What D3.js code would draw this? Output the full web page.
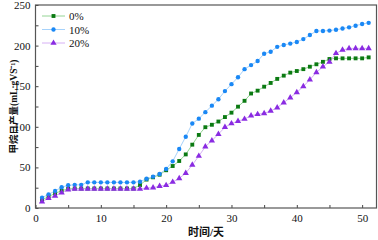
<!DOCTYPE html>
<html>
<head>
<meta charset="utf-8">
<script src="https://cdn.jsdelivr.net/npm/d3@7"></script>
<style>
  body { margin: 0; background: #fff; }
  svg { display: block; }
  text { font-family: "Liberation Serif", "Noto Sans CJK SC", serif; fill: #111; }
</style>
</head>
<body>
<div id="chart"></div>
<script>
// days 1..51
var days = d3.range(1, 52);

var seriesNames = ["0%", "10%", "20%"];

var vals0 = [10, 14, 18, 21.3, 23.5, 24, 24, 24, 24, 24,
  24, 24, 24, 24, 24, 28.3, 35, 37.8, 41, 46.5,
  51.7, 57.9, 66, 78, 90, 99.5, 102.5, 106.5, 112, 117.4,
  124.8, 132, 141, 144.5, 149.4, 154, 159, 163, 166.7, 168.7,
  171, 174, 177, 180, 183.5, 184.3, 184.3, 184.3, 184.3, 184.3,
  185.5];

var vals10 = [12.7, 16.8, 21, 25.5, 28, 28.5, 28.5, 31.6, 31.6, 31.6,
  31.6, 31.6, 31.6, 31.6, 31.6, 32.4, 36, 38.6, 41.9, 48,
  57.5, 72.7, 87.8, 104, 110, 118, 126, 134, 144, 152.5,
  161, 171, 176, 181, 190, 192.5, 198.5, 200.7, 202.5, 204.5,
  208, 213, 218, 218, 218.5, 219.5, 221, 222.5, 224.5, 226.6,
  228];

var vals20 = [7.8, 12, 15, 19, 22.5, 23.5, 23.5, 23.5, 23.5, 23.5,
  23.5, 23.5, 23.5, 23.5, 23.5, 23.5, 24.6, 25, 27, 28,
  32, 36.5, 43, 53, 64, 75.5, 83, 91, 99.5, 104,
  107, 109.6, 113.7, 115.4, 116.6, 119.5, 123.6, 129.7, 136, 142.4,
  149.7, 158, 167, 174, 180, 190.5, 194.6, 196.6, 196.6, 196.6,
  196.6];

var xTicks = [0, 10, 20, 30, 40, 50];
var yTicks = [0, 50, 100, 150, 200, 250];

var markerColors = ["#0b7a12", "#1a88f5", "#8a2be2"];
var lineColors = ["#94d494", "#a6d2fb", "#d6b0f5"];
var markerShapes = [d3.symbolSquare, d3.symbolCircle, d3.symbolTriangle];
var markerSizes = [15, 15, 17];

var W = 378, H = 240;
var margin = {top: 5, right: 1.5, bottom: 32, left: 35.5};

var svg = d3.select("#chart").append("svg")
  .attr("width", W)
  .attr("height", H);

var x = d3.scaleLinear().domain([0, 52.2]).range([margin.left, W - margin.right]);
var y = d3.scaleLinear().domain([0, 250]).range([H - margin.bottom, margin.top]);

var series = [vals0, vals10, vals20].map(function(v, i) {
  return {name: seriesNames[i], values: days.map(function(d, j) { return {day: d, v: v[j]}; }), idx: i};
});

// axes with inward ticks
var xAxis = svg.append("g")
  .attr("transform", "translate(0," + y(0) + ")")
  .call(d3.axisBottom(x).tickValues(d3.range(0, 55, 5)).tickSize(-3).tickPadding(6)
    .tickFormat(function(d) { return xTicks.indexOf(d) >= 0 ? d : ""; }));
xAxis.selectAll("text").style("font-size", "11px");

var yAxis = svg.append("g")
  .attr("transform", "translate(" + x(0) + ",0)")
  .call(d3.axisLeft(y).tickValues(d3.range(0, 251, 25)).tickSize(-3).tickPadding(5)
    .tickFormat(function(d) { return yTicks.indexOf(d) >= 0 ? d : ""; }));
yAxis.selectAll("text").style("font-size", "11px");

svg.selectAll(".domain").remove();
svg.selectAll(".tick line").attr("stroke", "#444");

// frame
svg.append("rect")
  .attr("x", x(0))
  .attr("y", y(250))
  .attr("width", x(52.2) - x(0))
  .attr("height", y(0) - y(250))
  .attr("fill", "none")
  .attr("stroke", "#555")
  .attr("stroke-width", 1.2);

var line = d3.line()
  .x(function(d) { return x(d.day); })
  .y(function(d) { return y(d.v); });

series.forEach(function(s) {
  svg.append("path")
    .datum(s.values)
    .attr("fill", "none")
    .attr("stroke", lineColors[s.idx])
    .attr("stroke-width", 1)
    .attr("d", line);
});

series.forEach(function(s) {
  svg.selectAll(".m" + s.idx)
    .data(s.values)
    .join("path")
    .attr("class", "m" + s.idx)
    .attr("transform", function(d) { return "translate(" + x(d.day) + "," + y(d.v) + ")"; })
    .attr("d", d3.symbol().type(markerShapes[s.idx]).size(markerSizes[s.idx]))
    .attr("fill", markerColors[s.idx]);
});

// legend
var legend = svg.append("g");
seriesNames.forEach(function(name, i) {
  var ly = 16 + i * 13.5;
  legend.append("line")
    .attr("x1", 42).attr("x2", 65)
    .attr("y1", ly).attr("y2", ly)
    .attr("stroke", lineColors[i])
    .attr("stroke-width", 1);
  legend.append("path")
    .attr("transform", "translate(53.5," + ly + ")")
    .attr("d", d3.symbol().type(markerShapes[i]).size(markerSizes[i]))
    .attr("fill", markerColors[i]);
  legend.append("text")
    .attr("x", 69)
    .attr("y", ly + 4)
    .style("font-size", "11px")
    .text(name);
});

// axis titles
svg.append("text")
  .attr("x", (x(0) + x(52.2)) / 2)
  .attr("y", 236)
  .attr("text-anchor", "middle")
  .style("font-size", "11px")
  .style("font-weight", "bold")
  .text("时间/天");

svg.append("text")
  .attr("transform", "translate(17," + ((y(0) + y(250)) / 2) + ") rotate(-90)")
  .attr("text-anchor", "middle")
  .style("font-size", "9.5px")
  .style("font-weight", "bold")
  .text("甲烷日产量(mL·gVS⁻¹)");
</script>
</body>
</html>
